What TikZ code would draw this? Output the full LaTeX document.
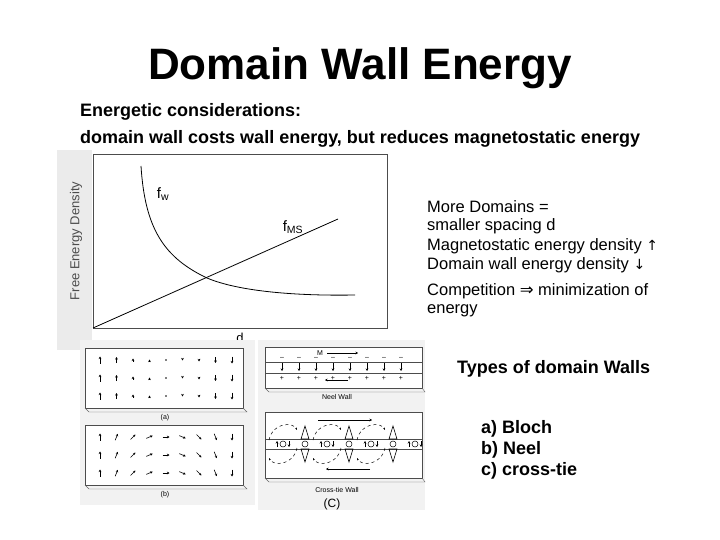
\documentclass[tikz,border=0pt]{standalone}
\usepackage{fontspec}
\setmainfont{Liberation Sans}
\newfontfamily\dvs{DejaVu Sans}
\usetikzlibrary{arrows.meta}
\begin{document}
\begin{tikzpicture}[x=1pt,y=-1pt,
  txt/.style={anchor=west,inner sep=0pt,font=\fontsize{16.5}{18}\selectfont},
  btxt/.style={anchor=west,inner sep=0pt,font=\bfseries\fontsize{18}{20}\selectfont},
  frame/.style={draw=black!70,line width=0.8pt},
  small/.style={inner sep=0pt,font=\fontsize{7}{8}\selectfont},
  sp/.style={line width=0.6pt,-{Stealth[length=2.5pt,width=2.5pt]}}]
\useasboundingbox (0,0) rectangle (720,540);
\fill[white] (0,0) rectangle (720,540);
\node (title) at (360,68) {\bfseries\fontsize{44}{48}\selectfont Domain Wall Energy};
\node[btxt] (l1) at (80,112) {Energetic considerations:};
\node[btxt] (l2) at (80,139) {domain wall costs wall energy, but reduces magnetostatic energy};
% graph
\fill[black!8] (57,150) rectangle (92,350);
\draw[frame] (93,154) rectangle (387,328);
\node[rotate=90,font=\fontsize{13}{14}\selectfont,text=black!70] (yl) at (76,241) {Free Energy Density};
\node[font=\fontsize{13}{14}\selectfont] (dl) at (240,338) {d};
\draw[line width=0.8pt] (141,166) .. controls (145,230) and (165,258) .. (207,278) .. controls (240,292) and (300,296) .. (355,295);
\draw[line width=0.8pt] (93,328) -- (338,219);
\node[font=\fontsize{15}{16}\selectfont] (fw) at (163,194) {f\textsubscript{w}};
\node[font=\fontsize{15}{16}\selectfont] (fms) at (293,227) {f\textsubscript{MS}};
% right text
\node[txt] (t1) at (427,207) {More Domains =};
\node[txt] (t2) at (427,226) {smaller spacing d};
\node[txt] (t3) at (427,246) {Magnetostatic energy density {\dvs\fontsize{14}{14}\selectfont ↑}};
\node[txt] (t4) at (427,265) {Domain wall energy density {\dvs\fontsize{14}{14}\selectfont ↓}};
\node[txt] (t5) at (427,291) {Competition {\dvs ⇒} minimization of};
\node[txt] (t6) at (427,311) {energy};
\node[btxt] (ty) at (457,369) {Types of domain Walls};
\node[btxt] (ta) at (481,429) {a) Bloch};
\node[btxt] (tb) at (481,450) {b) Neel};
\node[btxt] (tc) at (481,471) {c) cross-tie};
% Bloch (a)
\fill[black!5] (80,340) rectangle (255,505);
\fill[white] (85,348) rectangle (243,408);
\draw[frame] (85,348) rectangle (243,408);
\draw[black!60] (85,408) -- (89,412) -- (247,412) -- (243,408);
\foreach \r in {360,378,396}{
  \foreach \i/\len in {0/7,1/6,2/3,3/1,4/0,5/-1,6/-3,7/-6,8/-7}{
    \pgfmathsetmacro\xx{100+\i*16.5}
    \ifdim \len pt=0pt \fill (\xx,\r) circle (0.9);
    \else \draw[sp] (\xx,\r+\len/2) -- (\xx,\r-\len/2); \fi
  }}
\node[small] (la) at (165,418) {(a)};
% Bloch (b)
\fill[white] (85,425) rectangle (243,485);
\draw[frame] (85,425) rectangle (243,485);
\draw[black!60] (85,485) -- (89,489) -- (247,489) -- (243,485);
\foreach \r in {437,455,473}{
  \foreach \i in {0,...,8}{
    \pgfmathsetmacro\xx{100+\i*16.5}
    \pgfmathsetmacro\ang{90-\i*22.5}
    \draw[sp] ({\xx-3.5*cos(\ang)},{\r+3.5*sin(\ang)}) -- ({\xx+3.5*cos(\ang)},{\r-3.5*sin(\ang)});
  }}
\node[small] (lb) at (165,495) {(b)};
% Neel wall
\fill[black!5] (258,340) rectangle (425,510);
\fill[white] (265,347) rectangle (422,388);
\draw[frame] (265,347) rectangle (422,388);
\draw[black!70] (265,362) -- (422,362) (265,373) -- (422,373);
\draw[black!60] (265,388) -- (269,392) -- (425,392) -- (422,388);
\node[small] (mlab) at (320,353) {M};
\draw[sp] (327,353) -- (358,353);
\foreach \i in {0,...,7}{
  \pgfmathsetmacro\xx{282+\i*17}
  \node[small] at (\xx,358) {--};
  \draw[sp] (\xx,363) -- (\xx,371);
  \node[small] at (\xx,378) {+};
}
\draw[sp] (348,380) -- (325,380);
\node[small] (ln) at (337,397) {Neel Wall};
% cross-tie
\fill[white] (265,412) rectangle (422,478);
\draw[frame] (265,412) rectangle (422,478);
\draw[black!70] (265,439) -- (422,439) (265,449) -- (422,449);
\draw[black!60] (265,478) -- (269,482) -- (425,482) -- (422,478);
\draw[sp,line width=0.8pt] (318,420) -- (372,420);
\draw[sp,line width=0.8pt] (370,469) -- (326,469);
\foreach \xx in {305,349,393}{
  \draw[line width=0.6pt] (\xx,426) -- (\xx-4,439) -- (\xx+4,439) -- cycle;
  \draw[line width=0.6pt] (\xx,462) -- (\xx-4,449) -- (\xx+4,449) -- cycle;
  \draw[line width=0.5pt] (\xx,444) circle (3);
}
\foreach \xx in {283,327,371,415}{
  \draw[line width=0.5pt] (\xx,444) circle (3);
  \draw[sp] (\xx-6,447) -- (\xx-6,441);
  \draw[sp] (\xx+6,441) -- (\xx+6,447);
}
\foreach \xx in {283,327,371}{
  \draw[dashed,line width=0.5pt,-{Stealth[length=2.5pt]}] (\xx-14,440) .. controls (\xx-10,422) and (\xx+10,422) .. (\xx+14,430);
  \draw[dashed,line width=0.5pt,-{Stealth[length=2.5pt]}] (\xx+14,448) .. controls (\xx+10,466) and (\xx-10,466) .. (\xx-14,458);
}
\node[small] (lx) at (337,490) {Cross-tie Wall};
\node[font=\fontsize{12}{13}\selectfont] (lc) at (332,504) {(C)};
\end{tikzpicture}
\end{document}
